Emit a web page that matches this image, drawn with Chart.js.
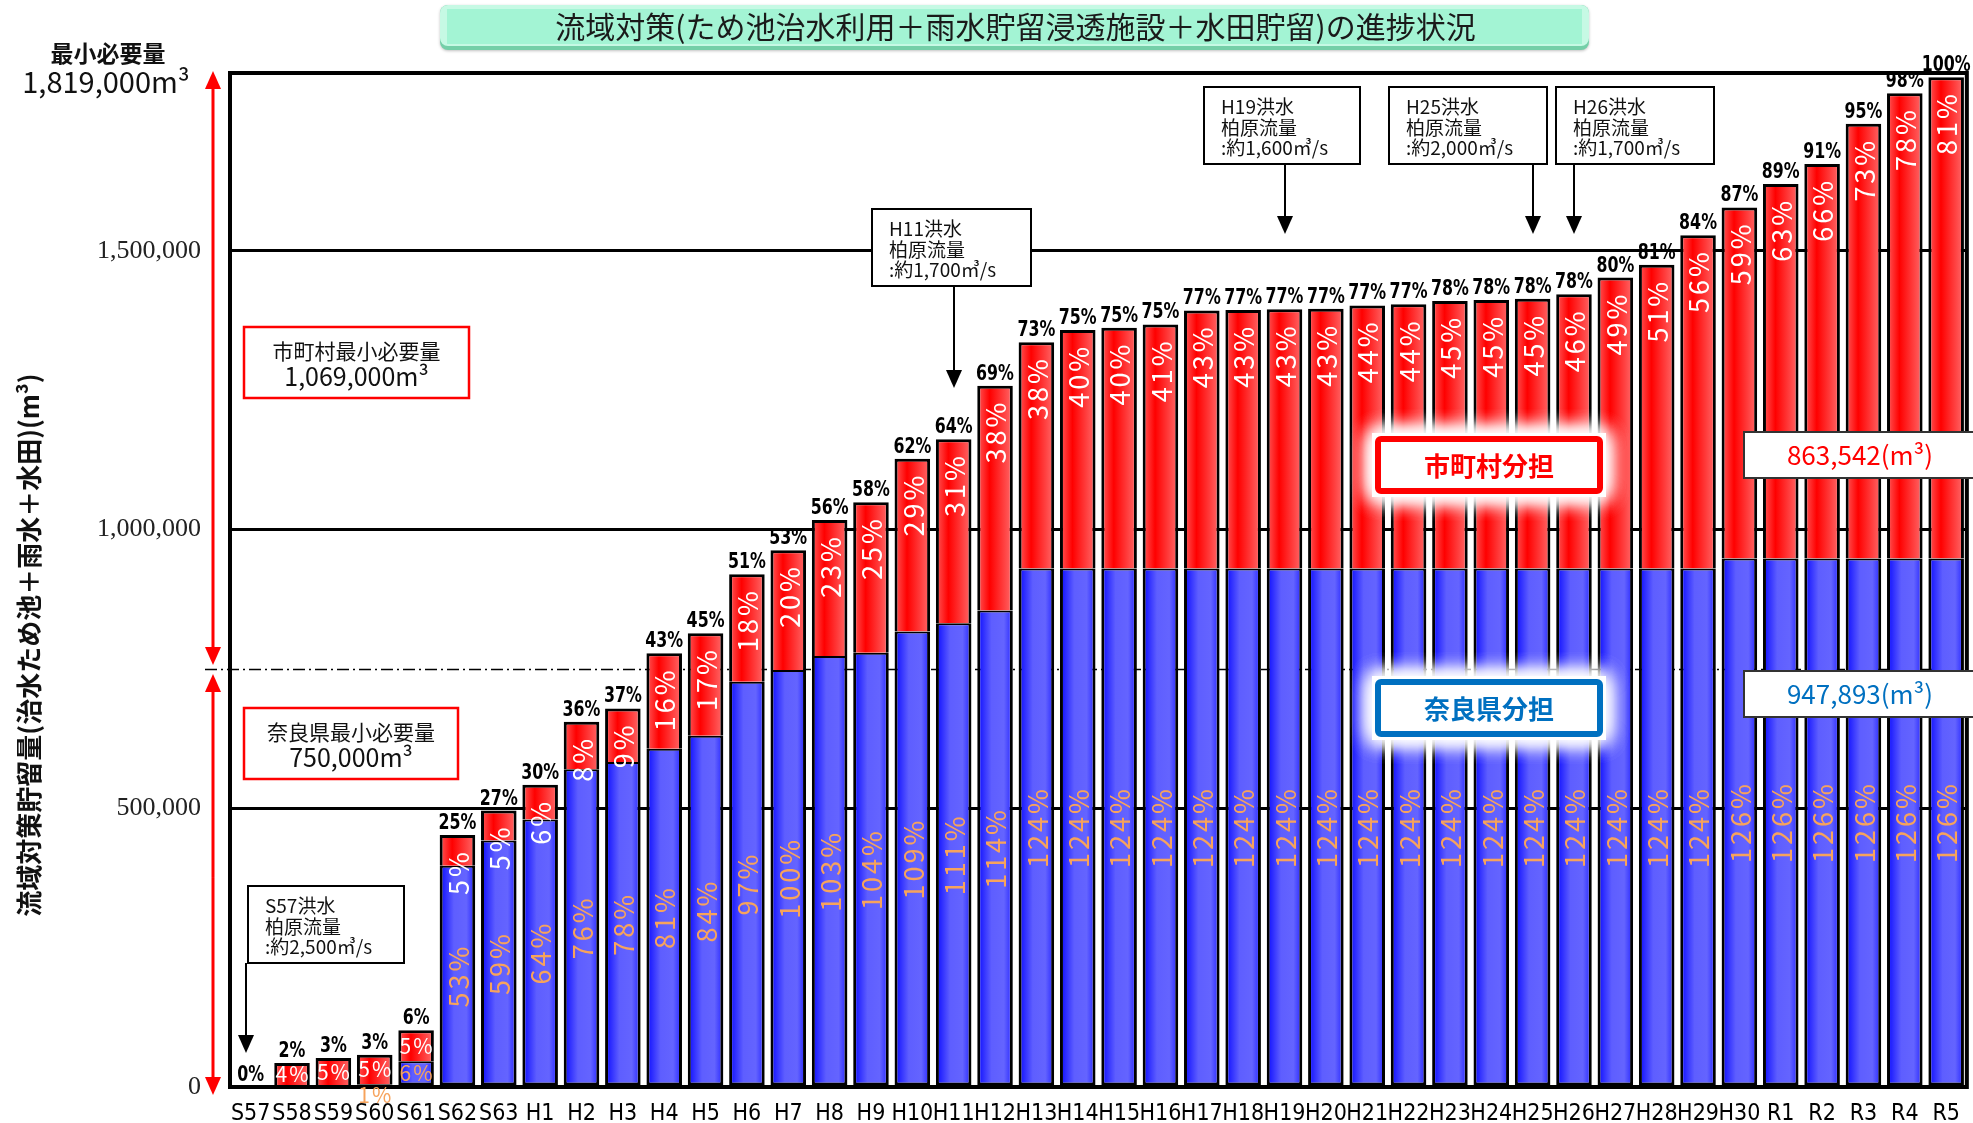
<!DOCTYPE html>
<html lang="ja">
<head>
<meta charset="utf-8">
<title>流域対策の進捗状況</title>
<script src="https://cdn.jsdelivr.net/npm/chart.js@4.4.1/dist/chart.umd.min.js"></script>
<style>
  html, body { margin: 0; padding: 0; background: #fff; }
  #wrap { width: 1973px; height: 1123px; }
</style>
</head>
<body>
<div id="wrap"><canvas id="myChart" width="1973" height="1123"></canvas></div>
<script>
// years (S = 昭和, H = 平成, R = 令和)
const labels = ['S57', 'S58', 'S59', 'S60', 'S61', 'S62', 'S63',
  'H1', 'H2', 'H3', 'H4', 'H5', 'H6', 'H7', 'H8', 'H9', 'H10', 'H11', 'H12',
  'H13', 'H14', 'H15', 'H16', 'H17', 'H18', 'H19', 'H20', 'H21', 'H22', 'H23', 'H24',
  'H25', 'H26', 'H27', 'H28', 'H29', 'H30',
  'R1', 'R2', 'R3', 'R4', 'R5'];

// 奈良県分担 (m3)
const prefValues = [0, 0, 0, 5000, 46000, 397000, 442000,
  480000, 570000, 583000, 607000, 630000, 727000, 748000, 773000, 779000, 817000, 832000, 855000,
  930000, 930000, 930000, 930000, 930000, 930000, 930000, 930000, 930000, 930000, 930000, 930000,
  930000, 930000, 930000, 930000, 930000,
  947893, 947893, 947893, 947893, 947893, 947893];

// 市町村分担 (m3)
const muniValues = [0, 43000, 52000, 53000, 56000, 55000, 54000,
  62000, 85000, 96000, 171000, 184000, 193000, 215000, 244000, 270000, 310000, 330000, 403000,
  406000, 428000, 432000, 438000, 463000, 464000, 465000, 466000, 472000, 474000, 480000, 482000,
  484000, 492000, 522000, 545000, 598000,
  630000, 672000, 708000, 780000, 835000, 863542];

// percentages printed on the chart
const totalPct = ['0%', '2%', '3%', '3%', '6%', '25%', '27%',
  '30%', '36%', '37%', '43%', '45%', '51%', '53%', '56%', '58%', '62%', '64%', '69%',
  '73%', '75%', '75%', '75%', '77%', '77%', '77%', '77%', '77%', '77%', '78%', '78%',
  '78%', '78%', '80%', '81%', '84%',
  '87%', '89%', '91%', '95%', '98%', '100%'];
const muniPct = ['', '4%', '5%', '5%', '5%', '5%', '5%',
  '6%', '8%', '9%', '16%', '17%', '18%', '20%', '23%', '25%', '29%', '31%', '38%',
  '38%', '40%', '40%', '41%', '43%', '43%', '43%', '43%', '44%', '44%', '45%', '45%',
  '45%', '46%', '49%', '51%', '56%',
  '59%', '63%', '66%', '73%', '78%', '81%'];
const prefPct = ['', '', '', '1%', '6%', '53%', '59%',
  '64%', '76%', '78%', '81%', '84%', '97%', '100%', '103%', '104%', '109%', '111%', '114%',
  '124%', '124%', '124%', '124%', '124%', '124%', '124%', '124%', '124%', '124%', '124%', '124%',
  '124%', '124%', '124%', '124%', '124%',
  '126%', '126%', '126%', '126%', '126%', '126%'];

const yTicks = [0, 500000, 1000000, 1500000];
const yMax = 1819000;   // 最小必要量
const prefNeed = 750000; // 奈良県最小必要量

const JP = '"Noto Sans CJK JP", "Noto Sans", sans-serif';
const NARROW = '"Liberation Sans Narrow", "DejaVu Sans Condensed", sans-serif';
const BAR_PCT = 0.86;

// horizontal gradient for each bar, built from the x scale
function barFill(stops) {
  return function (ctx) {
    const chart = ctx.chart;
    const xs = chart.scales.x;
    if (!xs || ctx.type !== 'data' || !isFinite(xs.width)) return stops[1][1];
    const cx = xs.getPixelForValue(ctx.dataIndex);
    const w = xs.width / labels.length * BAR_PCT;
    const g = chart.ctx.createLinearGradient(cx - w / 2, 0, cx + w / 2, 0);
    stops.forEach(s => g.addColorStop(s[0], s[1]));
    return g;
  };
}

function rrect(c, x, y, w, h, r) {
  c.beginPath();
  c.moveTo(x + r, y);
  c.arcTo(x + w, y, x + w, y + h, r);
  c.arcTo(x + w, y + h, x, y + h, r);
  c.arcTo(x, y + h, x, y, r);
  c.arcTo(x, y, x + w, y, r);
  c.closePath();
}

function arrow(c, x, y0, y1, color, lw, hw, hl) {
  const dir = Math.sign(y1 - y0);
  c.strokeStyle = color;
  c.fillStyle = color;
  c.lineWidth = lw;
  c.beginPath();
  c.moveTo(x, y0);
  c.lineTo(x, y1 - dir * hl);
  c.stroke();
  c.beginPath();
  c.moveTo(x, y1);
  c.lineTo(x - hw, y1 - dir * hl);
  c.lineTo(x + hw, y1 - dir * hl);
  c.closePath();
  c.fill();
}

function noteBox(c, x, y, w, h, lines) {
  c.fillStyle = '#fff';
  c.fillRect(x, y, w, h);
  c.strokeStyle = '#000';
  c.lineWidth = 2;
  c.strokeRect(x, y, w, h);
  c.fillStyle = '#111';
  c.font = '19px ' + JP;
  c.textAlign = 'left';
  c.textBaseline = 'middle';
  lines.forEach((t, k) => c.fillText(t, x + 17, y + 20 + k * 20.5));
}

function glowBox(c, x, y, w, h, color, text) {
  c.save();
  c.shadowColor = '#fff';
  c.shadowBlur = 20;
  c.fillStyle = '#fff';
  for (let k = 0; k < 4; k++) c.fillRect(x - 3, y - 3, w + 6, h + 6);
  c.restore();
  c.fillStyle = '#fff';
  c.fillRect(x, y, w, h);
  c.strokeStyle = color;
  c.lineWidth = 6;
  rrect(c, x + 3, y + 3, w - 6, h - 6, 3);
  c.stroke();
  c.fillStyle = color;
  c.font = 'bold 26px ' + JP;
  c.textAlign = 'center';
  c.textBaseline = 'middle';
  c.fillText(text, x + w / 2, y + h / 2 + 1);
}

function valueBox(c, x, y, w, h, color, text) {
  c.fillStyle = '#fff';
  c.fillRect(x, y, w, h);
  c.strokeStyle = '#333';
  c.lineWidth = 2;
  c.strokeRect(x, y, w, h);
  c.fillStyle = color;
  c.font = '26px ' + JP;
  c.textAlign = 'center';
  c.textBaseline = 'middle';
  c.fillText(text, x + 116, y + h / 2);
}

function needBox(c, x, y, w, h, line1, line2) {
  c.fillStyle = '#fff';
  c.fillRect(x, y, w, h);
  c.strokeStyle = '#ff0000';
  c.lineWidth = 2.5;
  c.strokeRect(x, y, w, h);
  c.fillStyle = '#111';
  c.textAlign = 'center';
  c.textBaseline = 'middle';
  c.font = '21px ' + JP;
  c.fillText(line1, x + w / 2, y + 24);
  c.font = '25px ' + JP;
  c.fillText(line2, x + w / 2, y + 49);
}

function titleBox(c) {
  const x = 440, y = 5, w = 1149, h = 45;
  c.save();
  c.shadowColor = 'rgba(0,0,0,0.25)';
  c.shadowBlur = 3;
  c.shadowOffsetY = 1;
  rrect(c, x, y, w, h, 8);
  c.fillStyle = '#74cfa8';
  c.fill();
  c.restore();
  // top / left bevel
  rrect(c, x, y, w, h - 4, 8);
  c.fillStyle = '#c6f9e4';
  c.fill();
  // face
  c.fillStyle = '#a3f4d4';
  c.fillRect(x + 7, y + 4, w - 14, h - 10);
  c.fillStyle = '#1a1a1a';
  c.font = '30px ' + JP;
  c.textAlign = 'center';
  c.textBaseline = 'middle';
  c.fillText('流域対策(ため池治水利用＋雨水貯留浸透施設＋水田貯留)の進捗状況', x + w / 2 + 1, y + h / 2 - 1);
}

const decor = {
  id: 'decor',
  beforeDraw(chart) {
    const c = chart.ctx;
    c.save();
    c.fillStyle = '#fff';
    c.fillRect(0, 0, chart.width, chart.height);
    c.restore();
  },
  beforeDatasetsDraw(chart) {
    const c = chart.ctx;
    const area = chart.chartArea;
    const y = Math.round(chart.scales.y.getPixelForValue(prefNeed)) + 0.5;
    c.save();
    c.strokeStyle = '#000';
    c.lineWidth = 1.3;
    c.setLineDash([12, 4, 2, 4]);
    c.beginPath();
    c.moveTo(205, y);
    c.lineTo(area.right, y);
    c.stroke();
    c.restore();
  },
  afterDatasetsDraw(chart) {
    const c = chart.ctx;
    const area = chart.chartArea;
    const xs = chart.scales.x, ys = chart.scales.y;
    const m0 = chart.getDatasetMeta(0), m1 = chart.getDatasetMeta(1);
    c.save();

    // frame
    c.strokeStyle = '#000';
    c.lineWidth = 4;
    c.strokeRect(area.left, area.top, area.right - area.left, area.bottom - area.top);

    // bar labels
    labels.forEach((lab, i) => {
      const b = m0.data[i], r = m1.data[i];
      const base = b.base;
      const top = Math.min(b.y, r.y);
      const stackH = base - top;

      c.save();
      c.translate(b.x, top - 6);
      c.scale(0.8, 1);
      c.font = 'bold 22px ' + NARROW;
      c.fillStyle = '#000';
      c.textAlign = 'center';
      c.textBaseline = 'alphabetic';
      c.fillText(totalPct[i], 0, 0);
      c.restore();

      if (muniPct[i]) {
        c.fillStyle = '#fff';
        if (stackH < 80) {
          c.letterSpacing = '2px';
          c.font = '21px ' + JP;
          c.textAlign = 'center';
          c.textBaseline = 'middle';
          c.fillText(muniPct[i], r.x + 1, (r.y + r.base) / 2);
        } else {
          c.save();
          c.letterSpacing = '3px';
          c.translate(r.x, r.y + 14);
          c.rotate(-Math.PI / 2);
          c.font = '27px ' + JP;
          c.textAlign = 'right';
          c.textBaseline = 'middle';
          c.fillText(muniPct[i], 0, 1);
          c.restore();
        }
      }
      if (prefPct[i]) {
        c.fillStyle = '#f7a35c';
        const h = base - b.y;
        c.letterSpacing = '2px';
        if (h < 10) {
          c.font = '21px ' + JP;
          c.textAlign = 'center';
          c.textBaseline = 'middle';
          c.fillText(prefPct[i], b.x + 1, base + 10);
        } else if (stackH < 80) {
          c.font = '21px ' + JP;
          c.textAlign = 'center';
          c.textBaseline = 'middle';
          c.fillText(prefPct[i], b.x + 1, (b.y + base) / 2);
        } else {
          c.save();
          c.letterSpacing = '3px';
          c.translate(b.x, (b.y + base) / 2);
          c.rotate(-Math.PI / 2);
          c.font = '27px ' + JP;
          c.textAlign = 'center';
          c.textBaseline = 'middle';
          c.fillText(prefPct[i], 0, 1);
          c.restore();
        }
      }
      c.letterSpacing = '0px';
    });

    // flood notes with arrows to their year
    const notes = [
      ['S57', 248, 886, 156, 77, ':約2,500㎥/s', 1053],
      ['H11', 872, 209, 159, 77, ':約1,700㎥/s', 388],
      ['H19', 1204, 87, 156, 77, ':約1,600㎥/s', 234],
      ['H25', 1389, 87, 158, 77, ':約2,000㎥/s', 234],
      ['H26', 1556, 87, 158, 77, ':約1,700㎥/s', 234]
    ];
    notes.forEach(n => {
      const ax = Math.round(xs.getPixelForValue(labels.indexOf(n[0])));
      noteBox(c, n[1], n[2], n[3], n[4], [n[0] + '洪水', '柏原流量', n[5]]);
      arrow(c, n[0] === 'S57' ? n[1] - 2 : ax, n[2] + n[4], n[6], '#000', 2, 8, 18);
    });

    // share labels and final values
    glowBox(c, 1375, 436, 228, 58, '#ff0000', '市町村分担');
    glowBox(c, 1375, 679, 228, 58, '#0070c0', '奈良県分担');
    valueBox(c, 1744, 432, 240, 46, '#ff0000', '863,542(m³)');
    valueBox(c, 1744, 671, 240, 46, '#0070c0', '947,893(m³)');

    // minimum requirement boxes
    needBox(c, 244, 327, 225, 71, '市町村最小必要量', '1,069,000m³');
    needBox(c, 244, 708, 214, 71, '奈良県最小必要量', '750,000m³');

    // red double arrows on the left
    const ax = 213;
    const yTop = ys.getPixelForValue(yMax);
    const yMid = ys.getPixelForValue(prefNeed);
    const yBot = ys.getPixelForValue(0);
    const aMid = (yTop + yMid) / 2, bMid = (yMid + yBot) / 2;
    arrow(c, ax, aMid, yTop - 2, '#ff0000', 3, 8, 18);
    arrow(c, ax, aMid, yMid - 4, '#ff0000', 3, 8, 18);
    arrow(c, ax, bMid, yMid + 5, '#ff0000', 3, 8, 18);
    arrow(c, ax, bMid, yBot + 8, '#ff0000', 3, 8, 18);

    // top-left total requirement
    c.fillStyle = '#111';
    c.textAlign = 'center';
    c.textBaseline = 'middle';
    c.font = 'bold 23px ' + JP;
    c.fillText('最小必要量', 108, 53);
    c.font = '29px ' + JP;
    c.fillText('1,819,000m³', 106, 82);

    // y axis title
    c.save();
    c.translate(29, 645);
    c.rotate(-Math.PI / 2);
    c.font = 'bold 26px ' + JP;
    c.fillText('流域対策貯留量(治水ため池＋雨水＋水田)(m³)', 0, 0);
    c.restore();

    titleBox(c);
    c.restore();
  }
};

const ctx = document.getElementById('myChart');
const myChart = new Chart(ctx, {
  type: 'bar',
  data: {
    labels: labels,
    datasets: [{
      label: '奈良県分担',
      data: prefValues,
      backgroundColor: barFill([[0, '#0a0aff'], [0.4, '#5e5eff'], [0.75, '#6464ff'], [1, '#2525ff']]),
      borderColor: '#000',
      borderWidth: { top: 2, left: 3, right: 3, bottom: 3 },
      borderSkipped: false
    }, {
      label: '市町村分担',
      data: muniValues,
      backgroundColor: barFill([[0, '#ff5a5a'], [0.35, '#ff0000'], [0.75, '#ff4040'], [1, '#ff6a6a']]),
      borderColor: '#000',
      borderWidth: { top: 3, left: 3, right: 3, bottom: 0 },
      borderSkipped: false
    }]
  },
  options: {
    responsive: false,
    animation: false,
    devicePixelRatio: 1,
    layout: {
      padding: { left: 0, top: 73, right: 6, bottom: 0 }
    },
    datasets: {
      bar: { categoryPercentage: 1, barPercentage: BAR_PCT }
    },
    plugins: {
      legend: { display: false },
      tooltip: { enabled: false }
    },
    scales: {
      x: {
        stacked: true,
        grid: { display: false, drawTicks: false },
        border: { display: false },
        ticks: {
          color: '#000',
          font: { family: NARROW, size: 23 },
          padding: 13,
          maxRotation: 0,
          autoSkip: false
        },
        afterFit: s => { s.height = 36; }
      },
      y: {
        stacked: true,
        min: 0,
        max: yMax,
        afterBuildTicks: s => { s.ticks = yTicks.map(v => ({ value: v })); },
        grid: { color: '#000', lineWidth: 3, drawTicks: false },
        border: { display: false },
        ticks: {
          color: '#222',
          font: { family: '"Liberation Serif", "DejaVu Serif", serif', size: 26 },
          padding: 29,
          callback: v => v.toLocaleString('en-US')
        },
        afterFit: s => {
          s.width = 230;
          s.paddingTop = 0;
          s.paddingBottom = 0;
        }
      }
    }
  },
  plugins: [decor]
});
</script>
</body>
</html>
